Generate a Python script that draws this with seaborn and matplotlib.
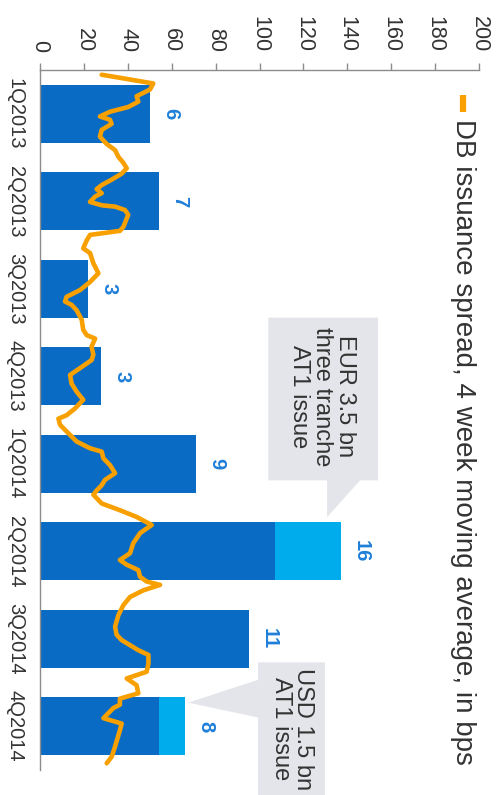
import matplotlib
matplotlib.use("Agg")
import matplotlib.pyplot as plt
from matplotlib.patches import Polygon
import pandas as pd
import seaborn as sns

# Quarterly issuance bars (dark part + AT1 add-on) and number of deals
quarters = ["1Q2013", "2Q2013", "3Q2013", "4Q2013", "1Q2014", "2Q2014", "3Q2014", "4Q2014"]
core_issuance = [50, 54, 22, 28, 71, 107, 95, 54]
at1_issuance = [0, 0, 0, 0, 0, 30, 0, 12]
deal_count = [6, 7, 3, 3, 9, 16, 11, 8]

# Weekly spread, 4 week moving average (weeks counted from start of 1Q2013)
spread_week = [0.7, 2.0, 2.9, 3.9, 4.7, 5.5, 6.2, 6.9, 7.4, 8.0,
               8.9, 9.9, 11.0, 11.9, 12.9, 13.8, 14.6, 15.4, 16.3, 17.1,
               17.7, 18.3, 18.8, 19.6, 20.1, 20.3, 20.8, 21.5, 23.3, 23.9,
               24.5, 25.3, 26.5, 27.2, 28.7, 30.2, 31.5, 32.7, 33.7, 34.4,
               34.9, 35.7, 37.1, 38.6, 39.4, 39.9, 41.1, 42.3, 43.1, 44.3,
               45.3, 46.6, 47.8, 49.0, 50.3, 51.3, 51.8, 52.7, 53.7, 55.2,
               56.2, 56.7, 57.7, 58.7, 59.9, 60.9, 61.7, 62.4, 63.1, 64.4,
               65.4, 66.4, 67.6, 68.8, 70.3, 71.8, 72.8, 73.5, 74.3, 75.3,
               76.0, 76.5, 77.3, 78.3, 79.5, 81.0, 82.7, 83.9, 84.7, 86.2,
               86.9, 88.2, 89.4, 90.4, 91.4, 92.6, 93.4, 94.3, 94.8, 96.3,
               97.1, 98.1, 100.5, 102.0, 103.0]
spread_bps = [28.1, 51.6, 50.1, 44.0, 44.8, 40.2, 31.9, 27.3, 31.9, 32.6,
              28.1, 27.3, 30.4, 34.2, 35.7, 38.0, 39.5, 37.2, 32.6, 28.1,
              25.8, 28.1, 25.1, 22.8, 28.1, 34.2, 38.7, 40.2, 38.0, 36.4,
              22.8, 21.3, 19.7, 22.8, 24.3, 26.6, 22.8, 18.2, 12.1, 11.4,
              14.4, 16.7, 19.0, 19.7, 21.3, 25.1, 23.5, 24.3, 23.5, 18.2,
              13.7, 14.4, 16.7, 19.7, 15.9, 12.1, 8.4, 9.1, 12.1, 16.7,
              22.8, 28.1, 28.9, 31.9, 34.2, 29.6, 28.1, 26.0, 24.3, 28.1,
              36.4, 44.0, 50.9, 45.6, 42.5, 41.0, 36.4, 39.5, 44.8, 45.6,
              48.6, 54.7, 47.1, 41.0, 38.0, 35.7, 34.2, 34.9, 37.2, 44.8,
              49.4, 49.4, 48.6, 39.5, 44.0, 44.8, 36.4, 36.4, 33.4, 28.9,
              37.2, 36.4, 34.2, 32.7, 30.4]

x_ticks = [0, 20, 40, 60, 80, 100, 120, 140, 160, 180, 200]
legend_label = "DB issuance spread, 4 week moving average, in bps"

DARK = "#0a6bc4"
LIGHT = "#00acec"
ORANGE = "#f7a000"
LABEL_BLUE = "#1f7fd8"
CALLOUT = "#e3e5ea"
TEXT = "#333333"
AXIS = "#8c8c8c"

sns.set_theme(style="white")
plt.rcParams["font.family"] = ["Liberation Sans", "DejaVu Sans"]

df = pd.DataFrame({
    "quarter": quarters,
    "core": core_issuance,
    "total": [c + a for c, a in zip(core_issuance, at1_issuance)],
    "deals": deal_count,
})
line_df = pd.DataFrame({
    "bps": spread_bps,
    "pos": [w / 13 - 0.5 for w in spread_week],
})

fig = plt.figure(figsize=(4.97, 7.95), dpi=100)
ax = fig.add_axes([40 / 497, 25 / 795, 439 / 497, 700 / 795])

sns.barplot(data=df, x="total", y="quarter", orient="h", color=LIGHT,
            saturation=1, width=0.66, errorbar=None, linewidth=0, ax=ax)
sns.barplot(data=df, x="core", y="quarter", orient="h", color=DARK,
            saturation=1, width=0.66, errorbar=None, linewidth=0, ax=ax)
sns.lineplot(data=line_df, x="bps", y="pos", orient="y", sort=False,
             estimator=None, color=ORANGE, linewidth=3.3, ax=ax)

ax.set_xlim(0, 200)
ax.set_ylim(len(quarters) - 0.5, -0.5)
ax.set_xlabel("")
ax.set_ylabel("")

# value axis on top, everything rotated a quarter turn
ax.xaxis.tick_top()
ax.set_xticks(x_ticks)
ax.set_xticklabels([str(t) for t in x_ticks])
ax.tick_params(axis="x", direction="out", length=5, width=1, color=AXIS,
               pad=8, labelsize=15.5, labelcolor=TEXT, labelrotation=-90)
ax.set_yticks(range(len(quarters)))
ax.set_yticklabels(quarters)
ax.tick_params(axis="y", length=0, pad=11, labelsize=14.5, labelcolor=TEXT,
               labelrotation=-90)
for lab in ax.get_yticklabels():
    lab.set_va("center")

for side in ["right", "bottom"]:
    ax.spines[side].set_visible(False)
for side in ["top", "left"]:
    ax.spines[side].set_color(AXIS)
    ax.spines[side].set_linewidth(1)

# deal counts at the bar ends
for i, row in df.iterrows():
    ax.annotate(str(row["deals"]), xy=(row["total"], i), xytext=(8, 0),
                textcoords="offset points", rotation=-90, ha="left", va="center",
                fontsize=14.5, fontweight="bold", color=LABEL_BLUE)

# call-out boxes
eur_shape = [(104, 2.33), (154, 2.33), (154, 4.19), (145.8, 4.19),
             (130.8, 4.61), (130.8, 4.19), (104, 4.19)]
ax.add_patch(Polygon(eur_shape, closed=True, facecolor=CALLOUT,
                     edgecolor="none", zorder=3))
ax.text(128.5, 3.23, "EUR 3.5 bn\nthree tranche\nAT1 issue", rotation=-90,
        ha="center", va="center", multialignment="center", fontsize=17,
        color=TEXT, linespacing=1.05, zorder=4)

usd_shape = [(99.3, 6.27), (129.8, 6.27), (129.8, 8.2), (99.3, 8.2),
             (99.3, 6.90), (67.5, 6.73), (99.3, 6.47)]
ax.add_patch(Polygon(usd_shape, closed=True, facecolor=CALLOUT,
                     edgecolor="none", zorder=3, clip_on=False))
ax.text(114.8, 7.03, "USD 1.5 bn\nAT1 issue", rotation=-90,
        ha="center", va="center", multialignment="center", fontsize=17,
        color=TEXT, linespacing=1.05, zorder=4, clip_on=False)

# legend entry drawn in the same quarter-turn orientation
lx = (463 - 40) / 439
ax.plot([lx, lx], [(770 - 95) / 700, (770 - 112) / 700], transform=ax.transAxes,
        color=ORANGE, linewidth=4.5, solid_capstyle="butt", clip_on=False)
ax.text(lx, (770 - 119) / 700, legend_label, transform=ax.transAxes,
        rotation=-90, ha="center", va="top", fontsize=20, color=TEXT)

fig.savefig("out.png", dpi=100)
